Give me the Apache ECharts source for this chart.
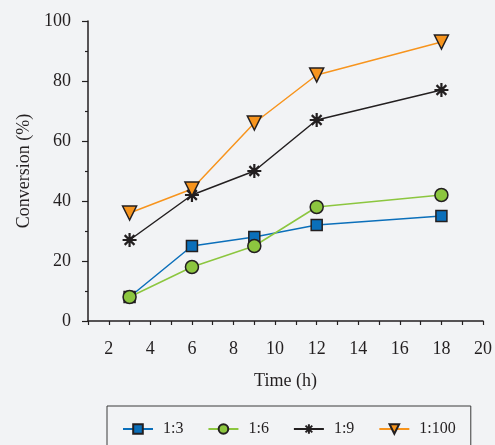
<!DOCTYPE html>
<html>
<head>
<meta charset="utf-8">
<script src="https://cdn.jsdelivr.net/npm/echarts@6/dist/echarts.min.js"></script>
<style>
  html, body { margin: 0; padding: 0; background: #f2f3f5; }
  #chart { width: 495px; height: 445px; }
</style>
</head>
<body>
<div id="chart"></div>
<script>
// Reaction time (h) and conversion (%) for each molar ratio
const times = [3, 6, 9, 12, 18];
const ratio13 = [8, 25, 28, 32, 35];
const ratio16 = [8, 18, 25, 38, 42];
const ratio19 = [27, 42, 50, 67, 77];
const ratio1100 = [36, 44, 66, 82, 93];
const seriesNames = ['1:3', '1:6', '1:9', '1:100'];

const ink = '#231f20';
const font = '"Liberation Serif", "DejaVu Serif", serif';
const asterisk = 'path://M0,-10L0,10M-10,0L10,0M-7,-7L7,7M-7,7L7,-7';

function pairs(ys) { return times.map((t, i) => [t, ys[i]]); }

function makeSeries(name, ys, color, symbol, size, extra) {
  return Object.assign({
    name: name,
    type: 'line',
    data: pairs(ys),
    symbol: symbol,
    symbolSize: size,
    showAllSymbol: true,
    lineStyle: { color: color, width: 1.5 },
    itemStyle: { color: color, borderColor: ink, borderWidth: 1.5 },
    emphasis: { disabled: true },
    z: 2
  }, extra || {});
}

const chart = echarts.init(document.getElementById('chart'), null, { renderer: 'canvas' });
chart.setOption({
  backgroundColor: '#f2f3f5',
  animation: false,
  textStyle: { fontFamily: font },
  grid: { left: 88, right: 8, top: 21, bottom: 124, containLabel: false },
  xAxis: {
    type: 'value',
    min: 1,
    max: 20,
    interval: 1,
    name: 'Time (h)',
    nameLocation: 'middle',
    nameGap: 51,
    nameTextStyle: { color: ink, fontSize: 18, fontFamily: font },
    axisLine: { show: true, lineStyle: { color: ink, width: 1.5 } },
    axisTick: { show: true, length: 4, lineStyle: { color: ink, width: 1.2 } },
    axisLabel: {
      color: ink, fontSize: 18, fontFamily: font, margin: 19,
      formatter: v => (v % 2 === 0 ? String(v) : '')
    },
    splitLine: { show: false }
  },
  yAxis: {
    type: 'value',
    min: 0,
    max: 100,
    interval: 20,
    name: 'Conversion (%)',
    nameLocation: 'middle',
    nameGap: 55,
    nameTextStyle: { color: ink, fontSize: 18, fontFamily: font },
    axisLine: { show: true, lineStyle: { color: ink, width: 1.5 } },
    axisTick: { show: true, length: 6, lineStyle: { color: ink, width: 1.2 } },
    minorTick: { show: true, splitNumber: 2, length: 3, lineStyle: { color: ink, width: 1.2 } },
    axisLabel: { color: ink, fontSize: 18, fontFamily: font, margin: 17 },
    splitLine: { show: false }
  },
  legend: {
    data: seriesNames,
    left: 107,
    top: 406,
    padding: [15, 15, 25, 15],
    borderColor: '#3a3a3a',
    borderWidth: 1,
    itemWidth: 30,
    itemHeight: 12,
    itemGap: 24,
    textStyle: { color: ink, fontSize: 16, fontFamily: font, padding: [0, 0, 0, 5] }
  },
  series: [
    makeSeries(seriesNames[0], ratio13, '#0b6fba', 'rect', 11),
    makeSeries(seriesNames[1], ratio16, '#8cc63f', 'circle', 13),
    makeSeries(seriesNames[2], ratio19, ink, asterisk, 14,
      { itemStyle: { color: ink, borderColor: ink, borderWidth: 2.2 } }),
    makeSeries(seriesNames[3], ratio1100, '#f7941d', 'triangle', 14, { symbolRotate: 180 })
  ]
});
</script>
</body>
</html>
